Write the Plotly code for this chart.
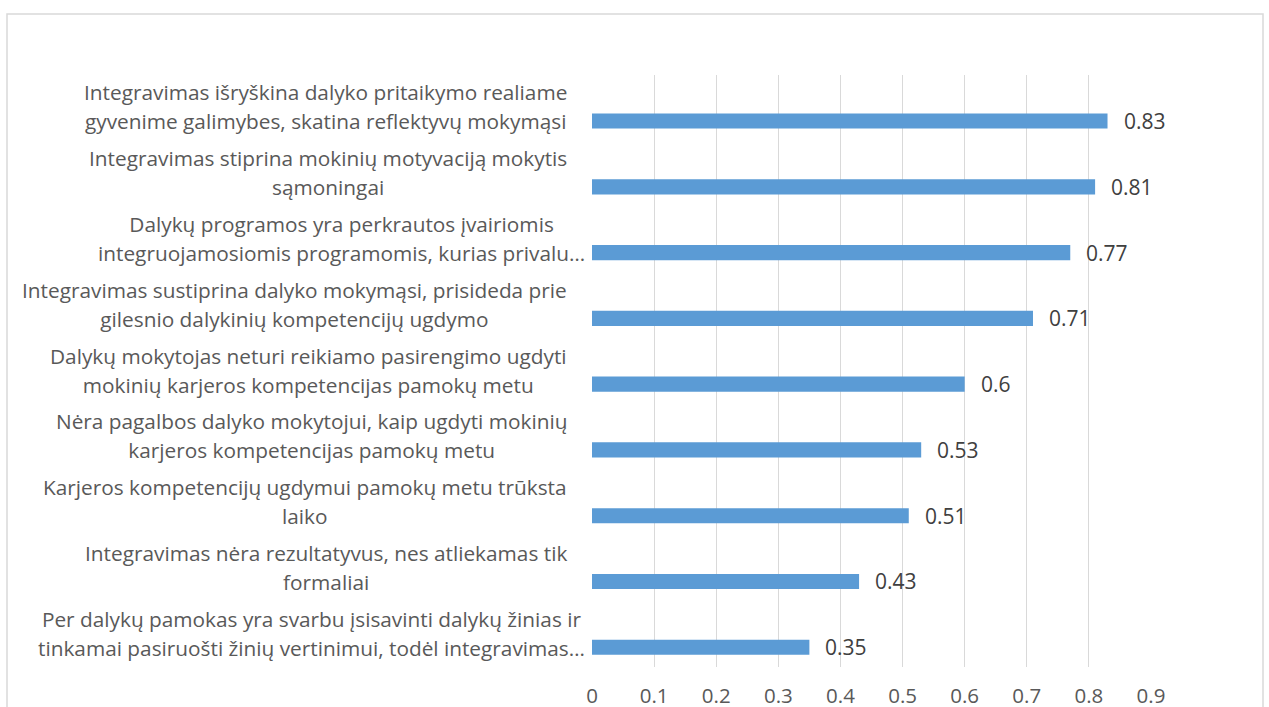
import plotly.graph_objects as go

categories = [
    "Integravimas išryškina dalyko pritaikymo realiame\ngyvenime galimybes, skatina reflektyvų mokymąsi",
    "Integravimas stiprina mokinių motyvaciją mokytis\nsąmoningai",
    "Dalykų programos yra perkrautos įvairiomis\nintegruojamosiomis programomis, kurias privalu…",
    "Integravimas sustiprina dalyko mokymąsi, prisideda prie\ngilesnio dalykinių kompetencijų ugdymo",
    "Dalykų mokytojas neturi reikiamo pasirengimo ugdyti\nmokinių karjeros kompetencijas pamokų metu",
    "Nėra pagalbos dalyko mokytojui, kaip ugdyti mokinių\nkarjeros kompetencijas pamokų metu",
    "Karjeros kompetencijų ugdymui pamokų metu trūksta\nlaiko",
    "Integravimas nėra rezultatyvus, nes atliekamas tik\nformaliai",
    "Per dalykų pamokas yra svarbu įsisavinti dalykų žinias ir\ntinkamai pasiruošti žinių vertinimui, todėl integravimas…",
]
values = [0.83, 0.81, 0.77, 0.71, 0.6, 0.53, 0.51, 0.43, 0.35]
x_ticks = [0, 0.1, 0.2, 0.3, 0.4, 0.5, 0.6, 0.7, 0.8, 0.9]

FONT = "Open Sans"
TXT = "#595959"
LAB_SIZE = 20.8
positions = list(range(len(categories)))

fig = go.Figure()
fig.add_trace(go.Bar(
    x=values, y=positions, orientation="h",
    width=0.23, offset=0.085,
    marker=dict(color="#5B9BD5", line=dict(width=0)),
    hoverinfo="x",
))

W, H = 1269, 707
L, T = 592, 75
R = W - 1151
B = H - 667
pw, ph = W - L - R, H - T - B

annotations = []
for i, (lab, v) in enumerate(zip(categories, values)):
    lines = lab.split("\n")
    txt = "<br>".join(f'<span style="font-size:{LAB_SIZE}px">{ln}</span>' for ln in lines)
    annotations.append(dict(
        x=0, y=i, xref="x", yref="y", text=txt, showarrow=False,
        xanchor="right", yanchor="middle", align="center",
        xshift=-5 if lab.endswith("…") else -23, yshift=1,
        font=dict(family=FONT, size=22.3, color=TXT),
    ))
    annotations.append(dict(
        x=v, y=i + 0.2, xref="x", yref="y", text=f"{v:g}", showarrow=False,
        xanchor="left", yanchor="middle", xshift=14,
        font=dict(family=FONT, size=21, color="#404040"),
    ))

fig.update_layout(
    width=W, height=H,
    margin=dict(l=L, r=R, t=T, b=B, pad=0),
    paper_bgcolor="white", plot_bgcolor="white",
    showlegend=False,
    font=dict(family=FONT, size=LAB_SIZE, color=TXT),
    xaxis=dict(
        range=[0, 0.9], tickvals=x_ticks, ticktext=[f"{t:g}" for t in x_ticks],
        showgrid=True, gridcolor="#D9D9D9", gridwidth=1,
        zeroline=False, showline=False, ticks="",
        tickfont=dict(family=FONT, size=20.5, color=TXT),
        ticklabelstandoff=14, automargin=False,
    ),
    yaxis=dict(
        range=[len(categories) - 0.5, -0.5], automargin=False,
        showticklabels=False, showgrid=False, zeroline=False, showline=False, ticks="",
    ),
    annotations=annotations,
    shapes=[dict(
        type="rect", xref="paper", yref="paper",
        x0=(7 - L) / pw, x1=(1263 - L) / pw,
        y0=-0.2, y1=(H - B - 14) / ph,
        line=dict(color="#D9D9D9", width=1.5), fillcolor="rgba(0,0,0,0)", layer="below",
    )],
)

fig.write_html(
    "out.html",
    config={"displayModeBar": False},
    post_script="document.body.style.margin='0';document.body.style.overflow='hidden';",
)
